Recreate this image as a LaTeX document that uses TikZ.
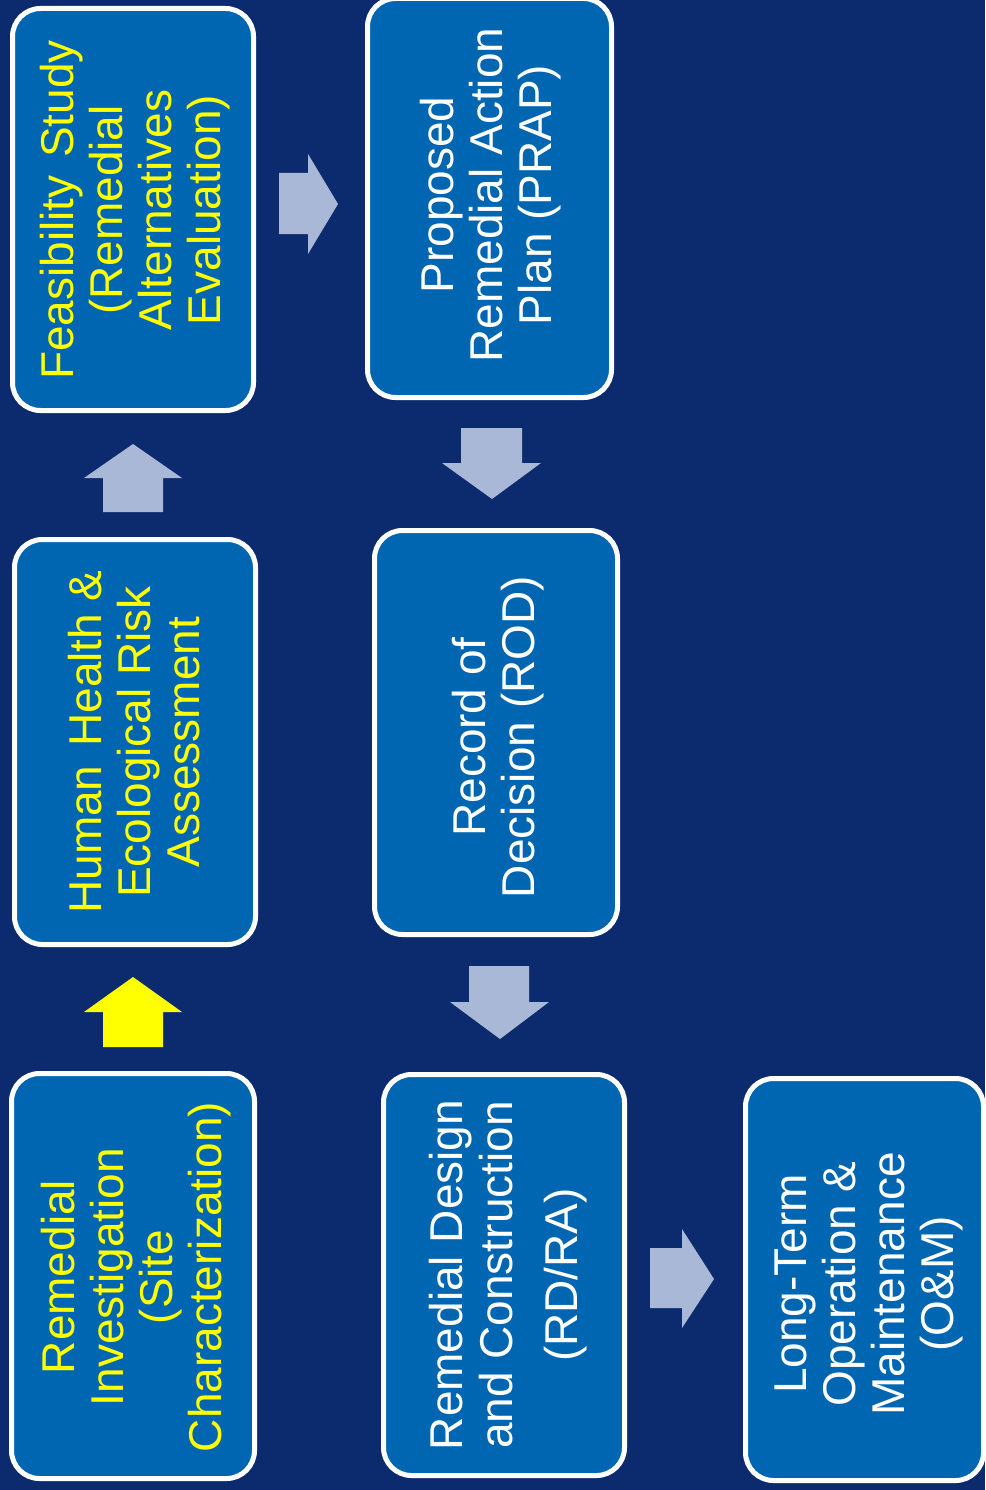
\documentclass[tikz,border=0pt]{standalone}
\usepackage{fontspec}
\setmainfont{Liberation Sans}
\definecolor{bgnavy}{HTML}{0C2B6E}
\definecolor{boxblue}{HTML}{0066B1}
\definecolor{arrowgrey}{HTML}{A9B8D7}
\definecolor{hiyellow}{HTML}{FFFF00}
\begin{document}
\begin{tikzpicture}[x=1pt,y=-1pt,
  stagebox/.style={draw=white, line width=5pt, fill=boxblue, rounded corners=28pt, inner sep=0pt},
  stagetext/.style={rotate=90, align=center, inner sep=0pt, font=\fontsize{46}{49}\selectfont},
  blockarrow/.style={fill=arrowgrey, draw=none},
]
\fill[bgnavy] (0,0) rectangle (985,1490);
\useasboundingbox (0,0) rectangle (985,1490);
\begin{scope}
\clip (0,0) rectangle (985,1490);
% boxes
\node[stagebox, minimum width=241pt, minimum height=402pt] (fs)   at (133,209.5) {};
\node[stagebox, minimum width=241pt, minimum height=405pt] (hh)   at (135,742) {};
\node[stagebox, minimum width=243pt, minimum height=405pt] (ri)   at (133,1276) {};
\node[stagebox, minimum width=244pt, minimum height=399pt] (prap) at (489.5,198) {};
\node[stagebox, minimum width=243pt, minimum height=404pt] (rod)  at (496,732.5) {};
\node[stagebox, minimum width=241pt, minimum height=401pt] (rd)   at (504,1275) {};
\node[stagebox, minimum width=238pt, minimum height=402pt] (om)   at (864.5,1279.5) {};
% texts
\node[stagetext, text=hiyellow] (fst) at (135,210) {Feasibility\hspace{5pt} Study\\(Remedial\\Alternatives\\Evaluation)};
\node[stagetext, text=hiyellow] (hht) at (134,742) {Human\hspace{6pt} Health \&\\Ecological Risk\\Assessment};
\node[stagetext, text=hiyellow] (rit) at (136,1277) {Remedial\\Investigation\\(Site\\Characterization)};
\node[stagetext, text=white] (prapt) at (491,195) {Proposed\\Remedial Action\\Plan (PRAP)};
\node[stagetext, text=white] (rodt) at (498,737) {Record of\\Decision (ROD)};
\node[stagetext, text=white] (rdt) at (508,1275) {Remedial Design\\[1pt]and Construction\\[16pt](RD/RA)};
\node[stagetext, text=white] (omt) at (869,1284) {Long-Term\\Operation \&\\Maintenance\\(O\&M)};
% block arrows
\fill[hiyellow] (103,1047) -- (103,1012) -- (84,1012) -- (133,977) -- (182,1012) -- (163,1012) -- (163,1047) -- cycle;
\fill[blockarrow] (103,512) -- (103,478) -- (84,478) -- (133,444) -- (182,478) -- (163,478) -- (163,512) -- cycle;
\fill[blockarrow] (279,173) -- (308,173) -- (308,154) -- (338,204) -- (308,254) -- (308,234) -- (279,234) -- cycle;
\fill[blockarrow] (461,428) -- (522,428) -- (522,463) -- (541,463) -- (492,499) -- (442,463) -- (461,463) -- cycle;
\fill[blockarrow] (469,966) -- (529,966) -- (529,1002) -- (549,1002) -- (500,1039) -- (450,1002) -- (469,1002) -- cycle;
\fill[blockarrow] (650,1248) -- (682,1248) -- (682,1229) -- (714,1279) -- (682,1328) -- (682,1308) -- (650,1308) -- cycle;
\end{scope}
\end{tikzpicture}
\end{document}
